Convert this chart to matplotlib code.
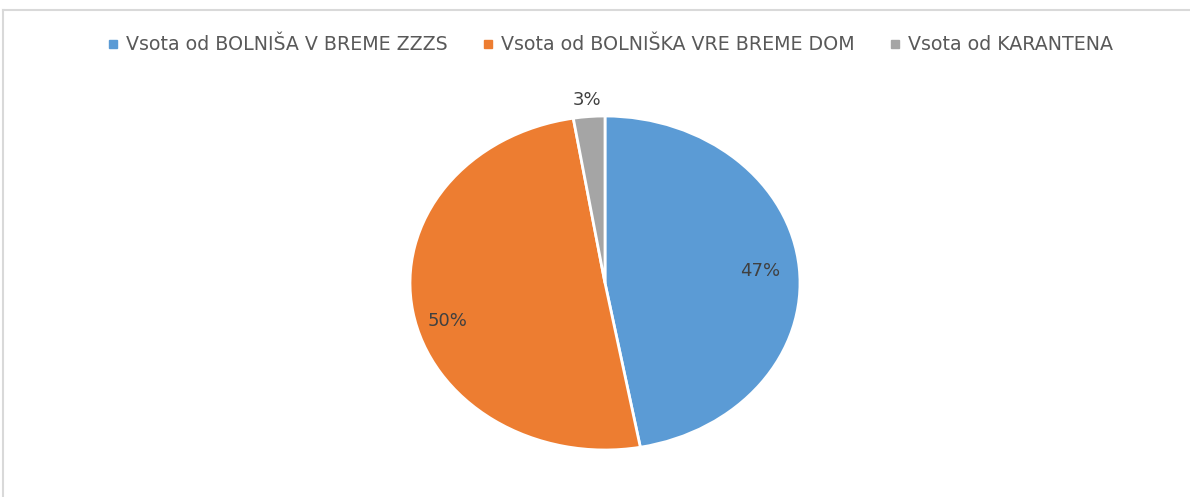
import numpy as np
import matplotlib.pyplot as plt
from matplotlib.lines import Line2D

# shares (percent)
labels = ['Vsota od BOLNIŠA V BREME ZZZS', 'Vsota od BOLNIŠKA VRE BREME DOM', 'Vsota od KARANTENA']
values = [47.1, 50.3, 2.6]
colors = ['#5B9BD5', '#ED7D31', '#A5A5A5']

W, H = 1190, 497
fig = plt.figure(figsize=(W / 100, H / 100), dpi=100)

# chart area frame (only left and top edges visible)
fig.add_artist(Line2D([3 / W, 3 / W], [0, 1 - 10 / H], color='#D9D9D9', lw=1.5))
fig.add_artist(Line2D([3 / W, 1], [1 - 10 / H, 1 - 10 / H], color='#D9D9D9', lw=1.5))

# pie is stretched horizontally in the reference
cx, cy, rx, ry = 605, 283, 195, 167
ax = fig.add_axes([(cx - rx) / W, (H - cy - ry) / H, 2 * rx / W, 2 * ry / H])
wedges, texts, autotexts = ax.pie(values, colors=colors, startangle=90, counterclock=False,
                                  autopct='%1.0f%%', pctdistance=0.8,
                                  wedgeprops=dict(edgecolor='white', linewidth=2),
                                  textprops=dict(color='#404040', fontsize=13))
ax.set_aspect('auto')
ax.set_xlim(-1, 1)
ax.set_ylim(-1, 1)

# small slice label goes outside, like Excel's best fit
w = wedges[2]
ang = np.deg2rad((w.theta1 + w.theta2) / 2)
autotexts[2].set_position((1.1 * np.cos(ang), 1.1 * np.sin(ang)))
# nudge the orange label a bit lower, as in the reference
x, y = autotexts[1].get_position()
autotexts[1].set_position((x - 0.02, y - 0.09))

handles = [Line2D([], [], marker='s', ls='none', color=c, markersize=6) for c in colors]
fig.legend(handles, labels, loc='center', bbox_to_anchor=(610 / W, 1 - 45 / H), ncol=3,
           frameon=False, fontsize=13.7, labelcolor='#595959', handlelength=0.6,
           handletextpad=0.4, columnspacing=1.8)

fig.savefig('out.png', dpi=100, facecolor='white')
